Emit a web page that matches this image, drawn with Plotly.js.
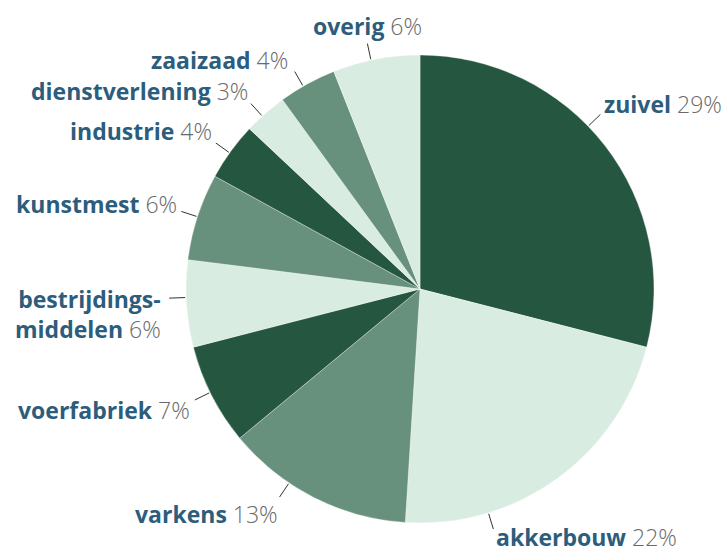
<!DOCTYPE html>
<html><head><meta charset="utf-8">
<script src="https://cdn.plot.ly/plotly-3.0.1.min.js"></script>
<style>html,body{margin:0;padding:0;background:#fff}</style></head>
<body><div id="chart" style="width:727px;height:552px"></div>
<script>
const categories = ['zuivel','akkerbouw','varkens','voerfabriek','bestrijdings-\nmiddelen','kunstmest','industrie','dienstverlening','zaaizaad','overig'];
const shares = [29,22,13,7,6,6,4,3,4,6];

const DARK = '#255640', MID = '#67917c', LIGHT = '#d8ece1';
const sliceColors = [DARK, LIGHT, MID, DARK, LIGHT, MID, DARK, LIGHT, MID, LIGHT];
const NAME_COLOR = '#2c5d7c', PCT_COLOR = '#6a6a6a';
const FONT = 'Open Sans, Lato, sans-serif';

// label placement (style only): where along the slice the leader sits, and text offset from leader end
const labelPlacement = [
  {f:0.44, dx:3,  dy:-10, xa:'left'},
  {f:0.74, dx:2,  dy:8,   xa:'left'},
  {f:0.65, dx:-1, dy:17,  xa:'right'},
  {f:0.53, dx:-4, dy:10,  xa:'right'},
  {f:0.57, dx:-7, dy:16,  xa:'right'},
  {f:0.50, dx:-3, dy:-7,  xa:'right'},
  {f:0.47, dx:-3, dy:-12, xa:'right'},
  {f:0.41, dx:-2, dy:-13, xa:'right'},
  {f:0.42, dx:-6, dy:-12, xa:'right'},
  {f:0.44, dx:0,  dy:-18, xa:'center'}
];

const W = 727, H = 552;
const margin = {l:186, r:73, t:55, b:29};
const plotW = W - margin.l - margin.r, plotH = H - margin.t - margin.b;
const R = Math.min(plotW, plotH) / 2;
const cx = margin.l + plotW / 2, cy = margin.t + plotH / 2;
const px2x = p => (p - margin.l) / plotW;
const py2y = p => 1 - (p - margin.t) / plotH;

const total = shares.reduce((a, b) => a + b, 0);
const annotations = [], shapes = [];
let cum = 0;
shares.forEach((v, i) => {
  const lp = labelPlacement[i];
  const ang = (cum + v * lp.f) / total * 2 * Math.PI;
  cum += v;
  const sx = Math.sin(ang), sy = -Math.cos(ang);
  const x0 = cx + (R + 1) * sx, y0 = cy + (R + 1) * sy;
  const x1 = cx + (R + 17) * sx, y1 = cy + (R + 17) * sy;
  shapes.push({type:'line', xref:'paper', yref:'paper', x0:px2x(x0), y0:py2y(y0), x1:px2x(x1), y1:py2y(y1),
    line:{color:'#333', width:1}});
  const pct = Math.round(v / total * 100) + '%';
  const lines = categories[i].split('\n');
  const nameHtml = lines.map(s => '<b><span style="color:' + NAME_COLOR + '">' + s + '</span></b>');
  nameHtml[nameHtml.length - 1] += ' ' + pct;
  annotations.push({
    xref:'paper', yref:'paper', x:px2x(x1 + lp.dx), y:py2y(y1 + lp.dy),
    xanchor:lp.xa, yanchor:'middle', align: lp.xa === 'center' ? 'center' : 'right',
    showarrow:false, text:nameHtml.join('<br>'), borderpad:0,
    font:{family:FONT, size:23, color:PCT_COLOR, weight:300}
  });
});

const data = [{
  type:'pie', labels:categories.map(c => c.replace('\n', '')), values:shares,
  sort:false, direction:'clockwise', rotation:0,
  marker:{colors:sliceColors, line:{color:'rgba(255,255,255,0.6)', width:0.6}},
  textinfo:'none', hoverinfo:'none', showlegend:false
}];

const layout = {
  width:W, height:H, margin:margin, paper_bgcolor:'#fff', plot_bgcolor:'#fff',
  showlegend:false, annotations:annotations, shapes:shapes
};
Plotly.newPlot('chart', data, layout, {displayModeBar:false, staticPlot:true});
</script></body></html>
